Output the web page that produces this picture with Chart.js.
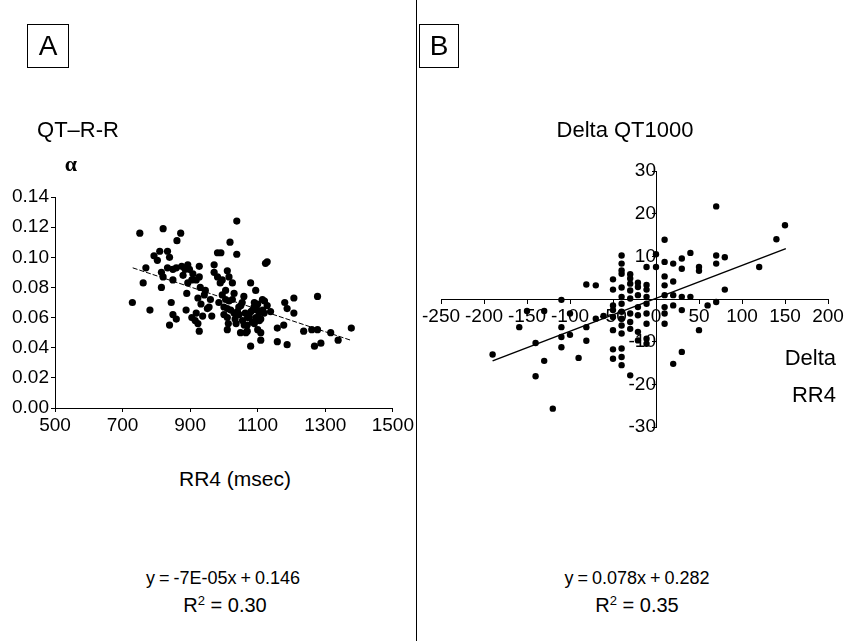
<!DOCTYPE html>
<html>
<head>
<meta charset="utf-8">
<script src="https://cdn.jsdelivr.net/npm/chart.js@4.4.1/dist/chart.umd.min.js"></script>
<style>
  body { margin: 0; background: #fff; }
  #wrap { position: relative; width: 850px; height: 641px; background: #fff; font-family: "Liberation Sans", Arial, sans-serif; color: #000; overflow: hidden; }
  canvas { position: absolute; top: 0; }
  .txt { position: absolute; white-space: nowrap; transform: translate(-50%, -50%); line-height: 1; }
  .right { transform: translate(-100%, -50%); }
  .eq { font-size: 18px; word-spacing: -1px; }
  .box { position: absolute; border: 1px solid #000; display: flex; align-items: center; justify-content: center; font-size: 28px; box-sizing: border-box; }
  #divider { position: absolute; left: 416px; top: 0; width: 1px; height: 641px; background: #000; }
  sup { font-size: 13px; vertical-align: 7px; line-height: 0; }
</style>
</head>
<body>
<div id="wrap">
  <canvas id="chartA" width="416" height="450" style="left:0"></canvas>
  <canvas id="chartB" width="433" height="450" style="left:417px"></canvas>
  <div id="divider"></div>

  <div class="box" style="left:27px;top:24px;width:42px;height:44px">A</div>
  <div class="box" style="left:419px;top:24px;width:40px;height:44px">B</div>

  <div class="txt" style="left:78px;top:130px;font-size:22px">QT–R-R</div>
  <div class="txt" style="left:71px;top:164px;font-size:22px;font-family:'Liberation Serif',serif;font-weight:bold">α</div>
  <div class="txt" style="left:235px;top:478px;font-size:21px">RR4 (msec)</div>
  <div class="txt eq" style="left:223px;top:578px">y = -7E-05x + 0.146</div>
  <div class="txt" style="left:225px;top:605px;font-size:20px">R<sup>2</sup> = 0.30</div>

  <div class="txt" style="left:625px;top:130px;font-size:22px">Delta QT1000</div>
  <div class="txt right" style="left:836px;top:358px;font-size:22px">Delta</div>
  <div class="txt right" style="left:836px;top:395px;font-size:22px">RR4</div>
  <div class="txt eq" style="left:637px;top:578px">y = 0.078x + 0.282</div>
  <div class="txt" style="left:637px;top:605px;font-size:20px">R<sup>2</sup> = 0.35</div>
</div>

<script>
// panel A: QT-RR alpha vs RR4 (msec)
const rrA = [729, 751, 761, 769, 781, 793, 803, 810, 820, 815, 815, 820, 833, 839, 833, 849, 859, 861, 872, 849,
  844, 849, 839, 859, 879, 893, 898, 893, 890, 888, 908, 918, 927, 927, 930, 923, 918, 923, 927, 932,
  937, 942, 951, 956, 964, 971, 971, 981, 981, 991, 989, 995, 995, 1005, 1010, 1015, 1018, 1025, 1030, 1038,
  1038, 1005, 1000, 1010, 1013, 1010, 1025, 1030, 1033, 1036, 1044, 1049, 1054, 1063, 1059, 1069, 1069, 1074, 1079, 1079,
  1084, 1089, 1094, 1099, 1104, 1109, 1109, 1109, 1114, 1119, 1123, 1128, 1128, 1138, 1158, 1158, 1177, 1180, 1187, 1187,
  1207, 1207, 1236, 1260, 1268, 1277, 1277, 1287, 1316, 1338, 1377,
  1015, 1085, 1095, 1100, 1105, 1090, 1010, 1020, 1040, 1050, 1060, 905, 915, 1070, 1080,
  875, 885, 905, 945, 960, 985, 1000, 1045, 1055, 1065, 1075, 1090, 1115, 1120, 1100];
const alphaA = [0.070, 0.116, 0.083, 0.093, 0.065, 0.101, 0.098, 0.104, 0.119, 0.090, 0.080, 0.087, 0.104, 0.100, 0.093, 0.092, 0.093, 0.111, 0.116, 0.085,
  0.070, 0.062, 0.055, 0.059, 0.088, 0.095, 0.092, 0.083, 0.076, 0.065, 0.089, 0.085, 0.094, 0.087, 0.080, 0.073, 0.063, 0.056, 0.051, 0.069,
  0.061, 0.075, 0.066, 0.067, 0.061, 0.095, 0.090, 0.087, 0.103, 0.103, 0.083, 0.085, 0.075, 0.078, 0.091, 0.087, 0.110, 0.083, 0.076, 0.124,
  0.102, 0.072, 0.067, 0.066, 0.056, 0.052, 0.072, 0.063, 0.059, 0.056, 0.067, 0.050, 0.070, 0.063, 0.074, 0.055, 0.051, 0.061, 0.083, 0.041,
  0.057, 0.067, 0.078, 0.065, 0.063, 0.059, 0.050, 0.045, 0.072, 0.063, 0.096, 0.097, 0.068, 0.064, 0.053, 0.044, 0.055, 0.070, 0.066, 0.042,
  0.073, 0.063, 0.051, 0.052, 0.041, 0.074, 0.052, 0.043, 0.050, 0.045, 0.053,
  0.071, 0.065, 0.060, 0.069, 0.058, 0.070, 0.060, 0.065, 0.064, 0.068, 0.055, 0.060, 0.058, 0.060, 0.064,
  0.094, 0.092, 0.085, 0.078, 0.072, 0.070, 0.062, 0.062, 0.058, 0.050, 0.060, 0.056, 0.065, 0.071, 0.052];
const fitXA = [730, 1375];
const fitYA = [0.093, 0.045];

// panel B: delta QT1000 vs delta RR4
const dRR = [-190, -150, -159, -140, -130, -130, -140, -120, -110, -110, -110, -110, -100, -100, -90, -81, -81, -70, -70, -81,
  -61, -50, -50, -50, -50, -50, -50, -50, -50, -40, -40, -40, -40, -40, -40, -40, -40, -40, -40, -40,
  -40, -40, -40, -30, -30, -30, -30, -30, -30, -30, -30, -30, -21, -21, -21, -21, -21, -21, -21, -11,
  -11, -11, -11, -11, -11, -11, -11, -11, 0, 0, 10, 10, 10, 10, 10, 10, 10, 10, 20, 20,
  20, 20, 20, 30, 30, 30, 30, 30, 40, 40, 50, 50, 50, 60, 70, 70, 70, 70, 80, 80,
  120, 140, 150];
const dQT = [-13.0, -2.8, -6.6, -10.3, -14.5, -2.8, -18.1, -25.7, -0.2, -6.6, -8.9, -11.3, -3.4, -8.4, -13.8, 3.4, -9.8, 3.2, -4.6, -6.6,
  -4.0, 4.6, 2.2, -1.5, -2.6, -4.2, -7.3, -11.8, -14.0, 10.2, 8.3, 6.7, 5.9, 2.7, 0.5, -1.1, -3.0, -4.6, -6.2, -8.1,
  -11.6, -13.6, -15.5, 5.8, 4.8, 3.6, 2.0, 0.1, -3.4, -5.4, -7.0, -17.9, 3.8, 2.8, 0.9, -1.9, -3.8, -7.7, -9.7, 7.5,
  3.3, 2.2, 0.5, -1.1, -3.4, -5.8, -9.3, -10.5, 10.5, 7.5, 13.9, 8.7, 5.3, 3.2, 0.9, -1.9, -3.4, -5.8, 8.3, 4.1,
  0.9, -1.5, -15.2, 9.5, 7.1, 0.5, -2.6, -12.4, 10.8, 0.5, 7.5, 6.6, -7.3, -1.5, 21.7, 10.2, 8.3, -0.7, 9.8, 2.2,
  7.5, 14.0, 17.3];
const fitXB = [-190, 151];
const fitYB = [-14.5, 11.8];

const tickFont = { family: "'Liberation Sans', Arial, sans-serif", size: 19 };

function pts(xs, ys) {
  return xs.map((x, i) => ({ x: x, y: ys[i] }));
}

function axis(min, max, step, fmt, pad) {
  return {
    type: "linear", min: min, max: max,
    border: { display: true, color: "#000", width: 1 },
    grid: { display: true, drawOnChartArea: false, color: "#000", tickLength: 4 },
    ticks: { color: "#000", font: tickFont, padding: pad, stepSize: step, maxRotation: 0, autoSkip: false, callback: fmt }
  };
}

// panel A
const xA = axis(500, 1500, 200, v => String(v), 2);
xA.afterFit = s => { s.height = 42; };
const yA = axis(0, 0.14, 0.02, v => v.toFixed(2), 2);
yA.afterFit = s => { s.width = 55; };

new Chart(document.getElementById("chartA"), {
  type: "scatter",
  data: {
    datasets: [
      { data: pts(rrA, alphaA), backgroundColor: "#000", borderColor: "#000", pointRadius: 3.6, borderWidth: 0 },
      { data: pts(fitXA, fitYA), showLine: true, borderColor: "#000", borderWidth: 1, borderDash: [5, 2], pointRadius: 0 }
    ]
  },
  options: {
    responsive: false,
    animation: false,
    layout: { padding: { top: 197, right: 21, left: 0, bottom: 0 } },
    plugins: { legend: { display: false }, tooltip: { enabled: false } },
    scales: { x: xA, y: yA }
  }
});

// panel B, axes cross at the origin
const xB = axis(-250, 200, 50, v => String(v), 2);
xB.position = { y: 0 };
const yB = axis(-30, 30, 10, v => v === 0 ? "" : String(v), 5);
yB.position = { x: 0 };

new Chart(document.getElementById("chartB"), {
  type: "scatter",
  data: {
    datasets: [
      { data: pts(dRR, dQT), backgroundColor: "#000", borderColor: "#000", pointRadius: 3.2, borderWidth: 0 },
      { data: pts(fitXB, fitYB), showLine: true, borderColor: "#000", borderWidth: 1.5, pointRadius: 0 }
    ]
  },
  options: {
    responsive: false,
    animation: false,
    layout: { padding: { top: 171, right: 22, left: 24, bottom: 23 } },
    plugins: { legend: { display: false }, tooltip: { enabled: false } },
    scales: { x: xB, y: yB }
  }
});
</script>
</body>
</html>
